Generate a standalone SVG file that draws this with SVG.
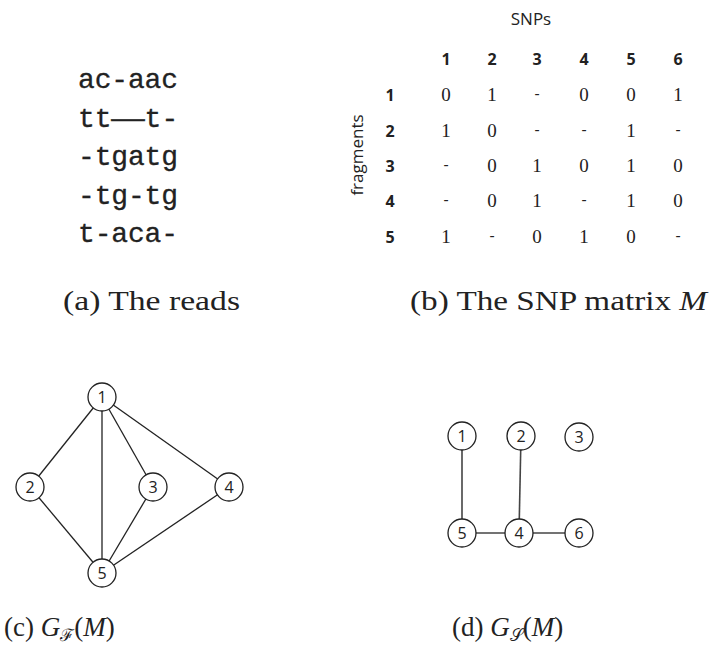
<svg xmlns="http://www.w3.org/2000/svg" width="720" height="650" viewBox="0 0 720 650">
<style>
.read{font-family:"Liberation Mono",monospace;font-size:28px;fill:#222;stroke:#222;stroke-width:0.3}
.hdr{font-family:"Open Sans","DejaVu Sans",sans-serif;font-size:16px;font-weight:bold;fill:#222;text-anchor:middle}
.val{font-family:"Liberation Serif",serif;font-size:19px;fill:#222;text-anchor:middle}
.dash{font-family:"Open Sans","DejaVu Sans",sans-serif;font-size:16px;fill:#222;text-anchor:middle}
.lbl{font-family:"Open Sans","DejaVu Sans",sans-serif;font-size:17px;fill:#222}
.cap{font-family:"Liberation Serif",serif;font-size:27px;fill:#222}
.node circle{fill:#fff;stroke:#222;stroke-width:1.3}
.node text{font-family:"Open Sans","DejaVu Sans",sans-serif;font-size:16px;fill:#222;text-anchor:middle}
.edges line{stroke:#222;stroke-width:1.3}
.edges2 line{stroke:#444;stroke-width:1.6}
</style>
<rect width="720" height="650" fill="#fff"/>
<g id="reads">
<text class="read" x="78" y="88" textLength="100">ac-aac</text>
<text class="read" x="78" y="126.5">tt<tspan textLength="33" lengthAdjust="spacingAndGlyphs">—</tspan>t-</text>
<text class="read" x="78" y="165" textLength="100">-tgatg</text>
<text class="read" x="78" y="203.5" textLength="100">-tg-tg</text>
<text class="read" x="78" y="242" textLength="100">t-aca-</text>
</g>
<g id="matrix">
<text class="lbl" x="531" y="25" text-anchor="middle">SNPs</text>
<text class="lbl" transform="translate(363,155) rotate(-90)" text-anchor="middle">fragments</text>
<text class="hdr" x="446" y="65">1</text><text class="hdr" x="492" y="65">2</text><text class="hdr" x="537" y="65">3</text><text class="hdr" x="584" y="65">4</text><text class="hdr" x="631" y="65">5</text><text class="hdr" x="678" y="65">6</text>
<text class="hdr" x="390" y="101">1</text><text class="hdr" x="390" y="137">2</text><text class="hdr" x="390" y="172">3</text><text class="hdr" x="390" y="207">4</text><text class="hdr" x="390" y="243">5</text>
<text class="val" x="446" y="101">0</text><text class="val" x="492" y="101">1</text><text class="dash" x="537" y="99">-</text><text class="val" x="584" y="101">0</text><text class="val" x="631" y="101">0</text><text class="val" x="678" y="101">1</text>
<text class="val" x="446" y="137">1</text><text class="val" x="492" y="137">0</text><text class="dash" x="537" y="135">-</text><text class="dash" x="584" y="135">-</text><text class="val" x="631" y="137">1</text><text class="dash" x="678" y="135">-</text>
<text class="dash" x="446" y="170">-</text><text class="val" x="492" y="172">0</text><text class="val" x="537" y="172">1</text><text class="val" x="584" y="172">0</text><text class="val" x="631" y="172">1</text><text class="val" x="678" y="172">0</text>
<text class="dash" x="446" y="205">-</text><text class="val" x="492" y="207">0</text><text class="val" x="537" y="207">1</text><text class="dash" x="584" y="205">-</text><text class="val" x="631" y="207">1</text><text class="val" x="678" y="207">0</text>
<text class="val" x="446" y="243">1</text><text class="dash" x="492" y="241">-</text><text class="val" x="537" y="243">0</text><text class="val" x="584" y="243">1</text><text class="val" x="631" y="243">0</text><text class="dash" x="678" y="241">-</text>
</g>
<g id="captions">
<text class="cap" x="63" y="310" textLength="177" lengthAdjust="spacingAndGlyphs">(a) The reads</text>
<text class="cap" x="410" y="310" textLength="297" lengthAdjust="spacingAndGlyphs">(b) The SNP matrix <tspan font-style="italic">M</tspan></text>
<text class="cap" x="4" y="636">(c) <tspan font-style="italic">G</tspan><tspan font-size="17" dy="5">ℱ</tspan><tspan dy="-5">(</tspan><tspan font-style="italic">M</tspan>)</text>
<text class="cap" x="452" y="636">(d) <tspan font-style="italic">G</tspan><tspan font-size="17" dy="5">𝒮</tspan><tspan dy="-5">(</tspan><tspan font-style="italic">M</tspan>)</text>
</g>
<g id="connectors">
<g class="edges">
<line x1="102" y1="397" x2="30" y2="487"/>
<line x1="102" y1="397" x2="102" y2="573"/>
<line x1="102" y1="397" x2="153" y2="487"/>
<line x1="102" y1="397" x2="229" y2="487"/>
<line x1="30" y1="487" x2="102" y2="573"/>
<line x1="153" y1="487" x2="102" y2="573"/>
<line x1="229" y1="487" x2="102" y2="573"/>
</g>
<g class="edges2">
<line x1="462" y1="436" x2="462" y2="533"/>
<line x1="521" y1="436" x2="519" y2="533"/>
<line x1="462" y1="533" x2="519" y2="533"/>
<line x1="519" y1="533" x2="579" y2="533"/>
</g>
</g>
<g id="gf-n1" class="node"><circle cx="102" cy="397" r="14"/><text x="102" y="403">1</text></g>
<g id="gf-n2" class="node"><circle cx="30" cy="487" r="14"/><text x="30" y="493">2</text></g>
<g id="gf-n3" class="node"><circle cx="153" cy="487" r="14"/><text x="153" y="493">3</text></g>
<g id="gf-n4" class="node"><circle cx="229" cy="487" r="14"/><text x="229" y="493">4</text></g>
<g id="gf-n5" class="node"><circle cx="102" cy="573" r="14"/><text x="102" y="579">5</text></g>
<g id="gs-n1" class="node"><circle cx="462" cy="436" r="14"/><text x="462" y="442">1</text></g>
<g id="gs-n2" class="node"><circle cx="521" cy="436" r="14"/><text x="521" y="442">2</text></g>
<g id="gs-n3" class="node"><circle cx="579" cy="437" r="14"/><text x="579" y="443">3</text></g>
<g id="gs-n5" class="node"><circle cx="462" cy="533" r="14"/><text x="462" y="539">5</text></g>
<g id="gs-n4" class="node"><circle cx="519" cy="533" r="14"/><text x="519" y="539">4</text></g>
<g id="gs-n6" class="node"><circle cx="579" cy="533" r="14"/><text x="579" y="539">6</text></g>
</svg>
